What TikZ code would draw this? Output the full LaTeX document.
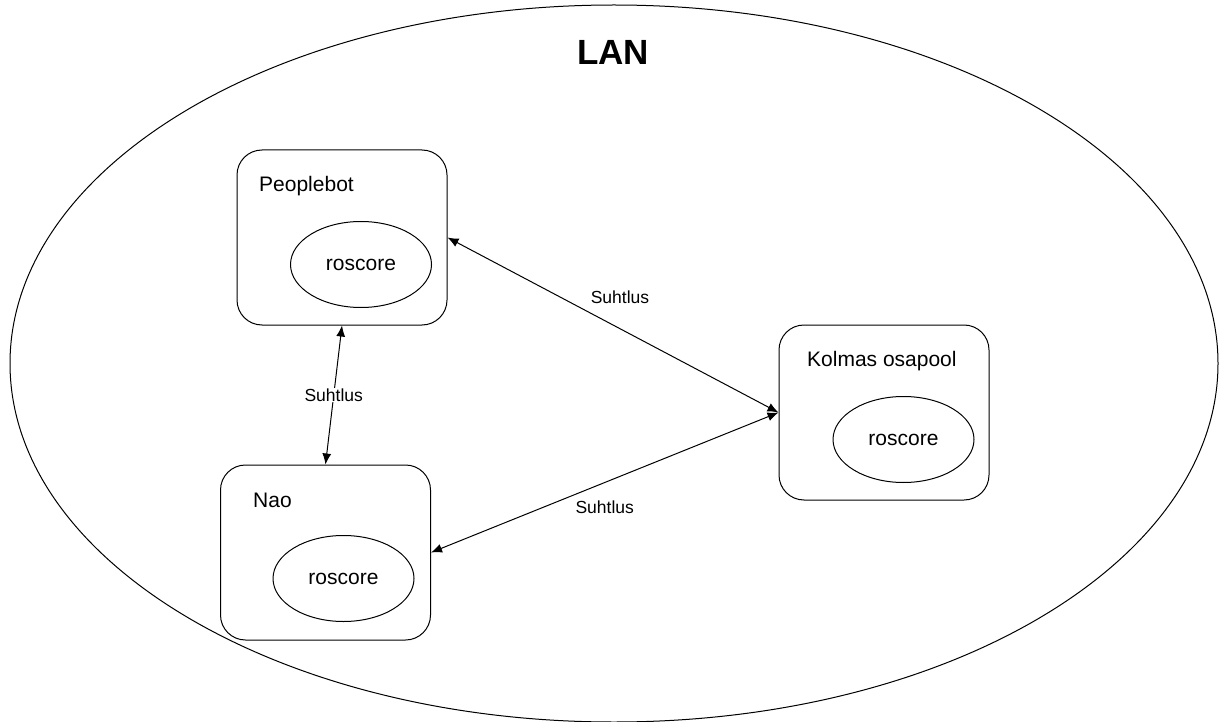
\documentclass[tikz,border=0pt]{standalone}
\usepackage{fontspec}
\setmainfont{Liberation Sans}
\usetikzlibrary{shapes.geometric,arrows.meta}
\begin{document}
\begin{tikzpicture}[
    x=1pt,y=-1pt,
    box/.style={draw,rounded corners=25pt,line width=1pt,minimum width=210pt,minimum height=175pt},
    core/.style={draw,ellipse,line width=1pt,minimum width=141pt,minimum height=86pt,font=\fontsize{21}{24}\selectfont},
    boxtitle/.style={anchor=base west,inner sep=0pt,font=\fontsize{21}{24}\selectfont},
    talk/.style={font=\fontsize{17.5}{20}\selectfont},
    >={Latex[length=11pt,width=9pt]}
]
\useasboundingbox (0,0) rectangle (1221,722);
\node[draw,ellipse,line width=1pt,minimum width=1208pt,minimum height=717pt] (lan) at (614,363.5) {};
\node[anchor=base,font=\bfseries\fontsize{35}{40}\selectfont] (lantitle) at (613,65) {LAN};

% nodes
\node[box] (peoplebot) at (342,237.5) {};
\node[boxtitle] (peoplebottitle) at (259,192) {Peoplebot};
\node[core] (peoplebotcore) at (361,264.5) {roscore};

\node[box] (nao) at (325.5,552.5) {};
\node[boxtitle] (naotitle) at (253,507) {Nao};
\node[core] (naocore) at (343.5,578.5) {roscore};

\node[box] (kolmas) at (884,412.5) {};
\node[boxtitle] (kolmastitle) at (807,366) {Kolmas osapool};
\node[core] (kolmascore) at (903.5,439.5) {roscore};

% connections
\draw[<->,line width=1pt] (peoplebot.south) -- node[talk,fill=white,inner sep=1pt] {Suhtlus} (nao.north);
\draw[<->,line width=1pt] (peoplebot.east) -- node[talk,above=17pt,xshift=7pt] {Suhtlus} (kolmas.west);
\draw[<->,line width=1pt] (nao.east) -- node[talk,below=14pt] {Suhtlus} (kolmas.west);
\end{tikzpicture}
\end{document}
